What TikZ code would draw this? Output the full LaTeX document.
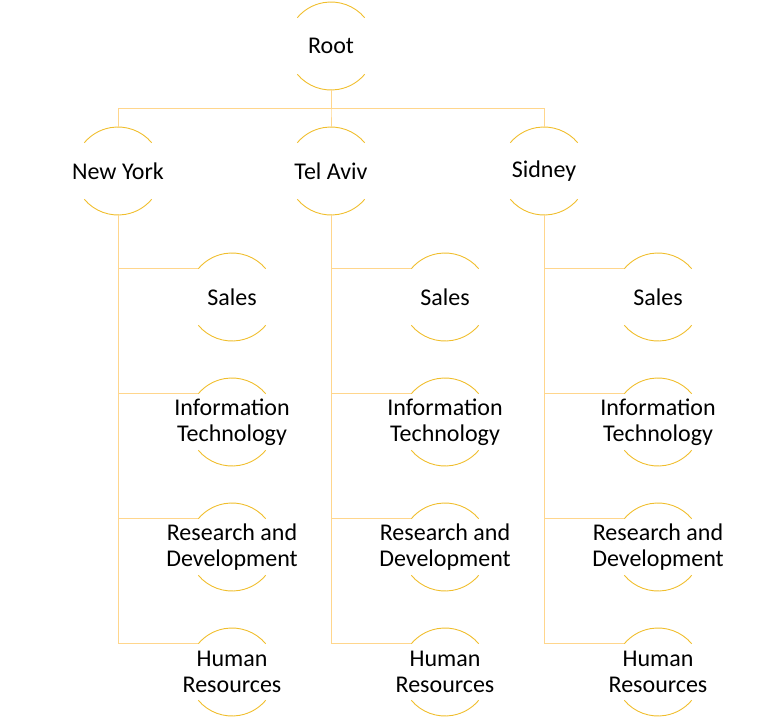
\documentclass[tikz,border=0pt]{standalone}
\usepackage{fontspec}
\setmainfont{Carlito}
\usetikzlibrary{calc,trees}

\definecolor{arcgold}{RGB}{240,190,45}
\definecolor{linegold}{RGB}{255,214,140}

\tikzset{
  unit/.style={font=\fontsize{24}{26}\selectfont, align=center, inner sep=0pt,
    append after command={\pgfextra{
      \draw[arcgold, line width=0.9pt] ($(\tikzlastnode.center)+(40:44pt)$) arc[start angle=40, end angle=140, radius=44pt];
      \draw[arcgold, line width=0.9pt] ($(\tikzlastnode.center)+(220:44pt)$) arc[start angle=220, end angle=320, radius=44pt];}}},
  edge from parent/.style={draw=linegold, line width=0.9pt}
}

\begin{document}
\begin{tikzpicture}
    \useasboundingbox (0,0) rectangle (777pt,-720pt);
            \node[unit] (root) at (331pt,-46pt) {Root}
            [level 1/.style={sibling distance=213pt, level distance=125pt,
              edge from parent path={($(\tikzparentnode.center)+(0,-44pt)$) -- ++(0,-18pt) -| ($(\tikzchildnode.center)+(0,44pt)$)}},
             level 2/.style={grow via three points={one child at (114pt,-126pt) and two children at (114pt,-126pt) and (114pt,-251pt)},
              edge from parent path={($(\tikzparentnode.center)+(0,-44pt)$) |- ($(\tikzchildnode.center)+(140:44pt)$)}}]
            child {node[unit] (newyork) {New York}
              child {node[unit] (nysales) {Sales}}
              child {node[unit] (nyit) {Information\\Technology}}
              child {node[unit] (nyrd) {Research and\\Development}}
              child {node[unit] (nyhr) {Human\\Resources}}}
            child {node[unit] (telaviv) {Tel Aviv}
              child {node[unit] (tasales) {Sales}}
              child {node[unit] (tait) {Information\\Technology}}
              child {node[unit] (tard) {Research and\\Development}}
              child {node[unit] (tahr) {Human\\Resources}}}
            child {node[unit] (sidney) {Sidney}
              child {node[unit] (sdsales) {Sales}}
              child {node[unit] (sdit) {Information\\Technology}}
              child {node[unit] (sdrd) {Research and\\Development}}
              child {node[unit] (sdhr) {Human\\Resources}}};
    \end{tikzpicture}
\end{document}
